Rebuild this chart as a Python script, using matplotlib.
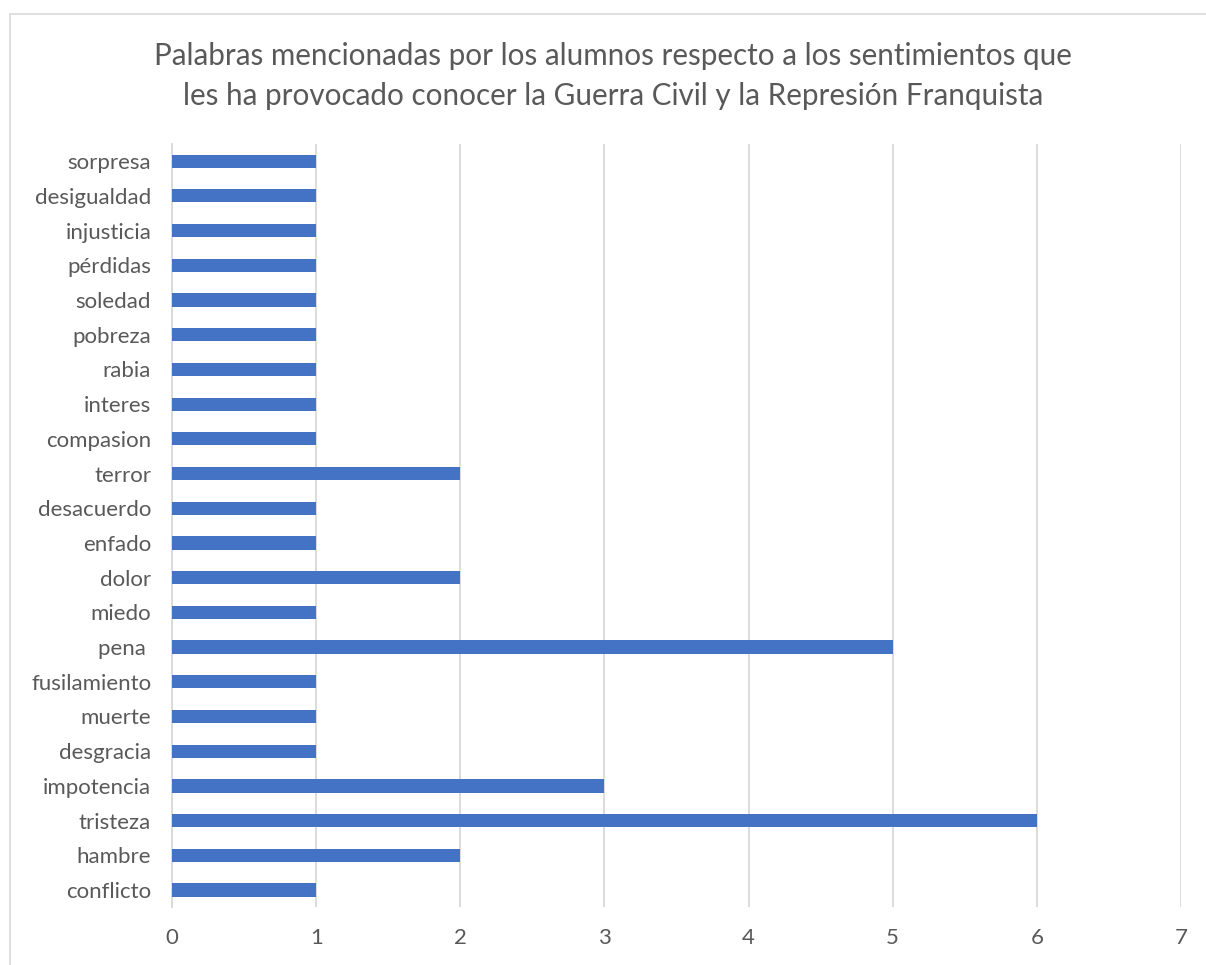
import matplotlib
matplotlib.use("Agg")
import matplotlib.pyplot as plt
import matplotlib.patches as mpatches

# ── datos ─────────────────────────────────────────────────────────────────────
PALABRAS = ["conflicto", "hambre", "tristeza", "impotencia", "desgracia",
            "muerte", "fusilamiento", "pena ", "miedo", "dolor", "enfado",
            "desacuerdo", "terror", "compasion", "interes", "rabia",
            "pobreza", "soledad", "pérdidas", "injusticia", "desigualdad",
            "sorpresa"]
VECES = [1, 2, 6, 3, 1, 1, 1, 5, 1, 2, 1, 1, 2, 1, 1, 1, 1, 1, 1, 1, 1, 1]
X_TICKS = [0, 1, 2, 3, 4, 5, 6, 7]

TITULO = ("Palabras mencionadas por los alumnos respecto a los sentimientos que\n"
          "les ha provocado conocer la Guerra Civil y la Represión Franquista")

AZUL  = "#4472C4"
GRIS  = "#595959"
REJA  = "#D9D9D9"

plt.rcParams["font.family"] = ["Lato", "DejaVu Sans"]

fig = plt.figure(figsize=(12.06, 9.65), dpi=100)
fig.patch.set_facecolor("white")

# marco del gráfico (recortado a la derecha y abajo)
marco = mpatches.Rectangle((10 / 1206, -0.05), 1.1, 1 - 14 / 965 + 0.05,
                           transform=fig.transFigure, fill=False,
                           edgecolor=REJA, linewidth=1.2)
fig.add_artist(marco)

ax = fig.add_axes([172 / 1206, 1 - 907.4 / 965, (1181 - 172) / 1206, 763.6 / 965])

pos = list(range(len(PALABRAS)))
ax.barh(pos, VECES, height=0.38, color=AZUL, zorder=3)

ax.set_xlim(0, 7)
ax.set_ylim(-0.5, len(PALABRAS) - 0.5)
ax.set_xticks(X_TICKS)
ax.set_xticklabels([str(t) for t in X_TICKS], fontsize=16, color=GRIS)
ax.set_yticks(pos)
ax.set_yticklabels(PALABRAS, fontsize=16, color=GRIS)
ax.tick_params(axis="both", length=0)
ax.tick_params(axis="x", pad=15)
ax.tick_params(axis="y", pad=15)

ax.grid(axis="x", color=REJA, linewidth=1.3, zorder=0)
for s in ["top", "right", "bottom"]:
    ax.spines[s].set_visible(False)
ax.spines["left"].set_color(REJA)
ax.spines["left"].set_linewidth(1.3)

fig.text(613 / 1206, 1 - 76 / 965, TITULO, ha="center", va="center",
         fontsize=21.3, color=GRIS, linespacing=1.48)

fig.savefig("out.png", dpi=100, facecolor="white")
plt.close(fig)
